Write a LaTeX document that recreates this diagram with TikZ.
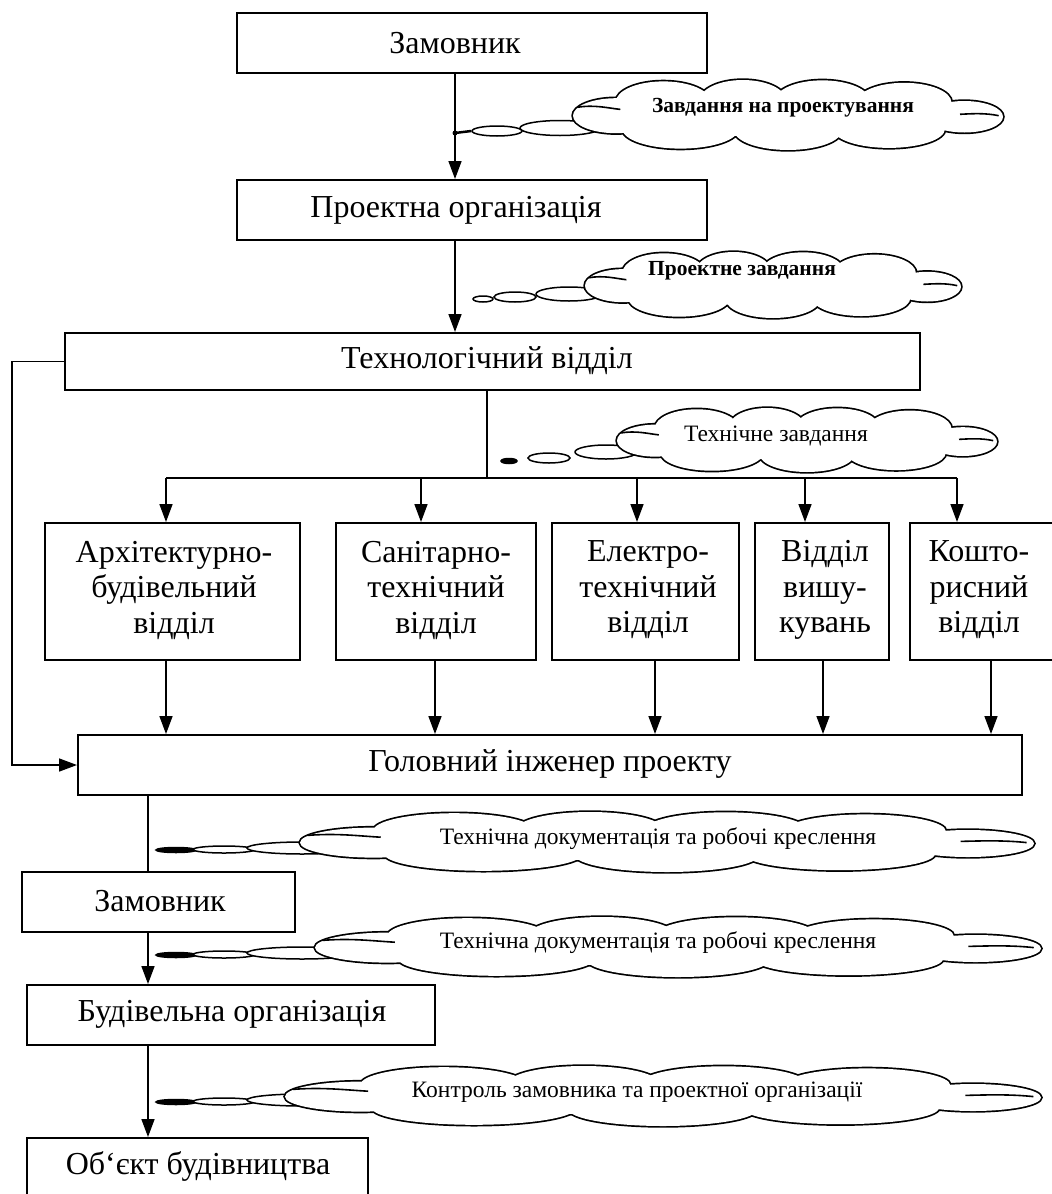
\documentclass[tikz,border=0pt]{standalone}
\usepackage{fontspec}
\setmainfont{Liberation Serif}
\usetikzlibrary{arrows.meta,shapes.geometric}

% lobes of a callout cloud, in units of its half width and half height
\newcommand\cloudlobes{%
  (0,0) ellipse (0.86 and 0.62)
  (-0.8,0.02) ellipse (0.2 and 0.5)
  (0.82,0.05) ellipse (0.18 and 0.45)
  (-0.58,-0.38) ellipse (0.22 and 0.58)
  (-0.21,-0.42) ellipse (0.2 and 0.58)
  (0.16,-0.41) ellipse (0.22 and 0.58)
  (0.54,-0.36) ellipse (0.22 and 0.56)
  (-0.5,0.4) ellipse (0.27 and 0.56)
  (0.0,0.44) ellipse (0.25 and 0.56)
  (0.47,0.4) ellipse (0.26 and 0.54)}

% cloud outline: name, centre x, centre y, half width, half height
\newcommand\drawcloud[5]{%
  \coordinate (#1) at (#2,#3);
  \begin{scope}[shift={(#2,#3)}, xscale=#4, yscale=#5]
    \draw[line width=3.4pt] \cloudlobes;
    \fill[white] \cloudlobes;
    % inner curls at the end lobes
    \draw[line width=1.6pt] (-0.98,-0.22) .. controls (-0.9,-0.3) and (-0.84,-0.2) .. (-0.78,-0.16);
    \draw[line width=1.6pt] (0.98,0.02) .. controls (0.92,-0.06) and (0.86,-0.04) .. (0.8,-0.02);
  \end{scope}}

\begin{document}
\begin{tikzpicture}[x=1pt,y=-1pt,
  box/.style={draw, line width=2pt, inner sep=0pt},
  flow/.style={line width=1.6pt, -{Triangle[length=18pt,width=13pt]}},
  link/.style={line width=1.6pt},
  tailb/.style={draw, line width=1.5pt, fill=white, ellipse, inner sep=0pt},
  big/.style={font=\fontsize{32}{35.5}\selectfont, align=center},
  cloudbold/.style={font=\bfseries\fontsize{21.5}{23}\selectfont},
  cloudtext/.style={font=\fontsize{23.5}{26}\selectfont}
]
\useasboundingbox (0,0) rectangle (1052,1194);

% x positions of the vertical connectors
\coordinate (xa) at (455,0);
\coordinate (xb) at (487,0);
\coordinate (xg) at (148,0);
\coordinate (fb) at (12,0);
\coordinate (bus) at (0,478);
\coordinate (in1) at (166,0);
\coordinate (in2) at (421,0);
\coordinate (in3) at (637,0);
\coordinate (in4) at (805,0);
\coordinate (in5) at (957,0);
\coordinate (out1) at (166,0);
\coordinate (out2) at (435,0);
\coordinate (out3) at (655,0);
\coordinate (out4) at (823,0);
\coordinate (out5) at (991,0);

% upper boxes
\node[box, minimum width=470pt, minimum height=60pt] (z1) at (472,43) {};
\node[big] (z1t) at (455,43) {Замовник};
\node[box, minimum width=470pt, minimum height=60pt] (p) at (472,210) {};
\node[big] (pt) at (456,210) {Проектна організація};
\node[box, minimum width=855pt, minimum height=57pt] (t) at (492,361.5) {};
\node[big] (tt) at (487,361) {Технологічний відділ};

% departments
\node[box, minimum width=255pt, minimum height=137pt] (d1) at (172.5,591.5) {};
\node[big] (d1t) at (174,590) {Архітектурно-\\будівельний\\відділ};
\node[box, minimum width=200pt, minimum height=137pt] (d2) at (435.5,591.5) {};
\node[big] (d2t) at (436,590) {Санітарно-\\технічний\\відділ};
\node[box, minimum width=187pt, minimum height=137pt] (d3) at (645.5,591.5) {};
\node[big] (d3t) at (648,590) {Електро-\\технічний\\відділ};
\node[box, minimum width=134pt, minimum height=137pt] (d4) at (822,591.5) {};
\node[big] (d4t) at (825,590) {Відділ\\вишу-\\кувань};
\node[box, minimum width=160pt, minimum height=137pt] (d5) at (990,591.5) {};
\node[big] (d5t) at (979,590) {Кошто-\\рисний\\відділ};

% chief engineer and lower chain
\node[box, minimum width=944pt, minimum height=60pt] (g) at (550,765) {};
\node[big] (gt) at (550,764) {Головний інженер проекту};
\node[box, minimum width=273pt, minimum height=60pt] (z2) at (158.5,902) {};
\node[big] (z2t) at (160,901) {Замовник};
\node[box, minimum width=408pt, minimum height=60pt] (b) at (231,1015) {};
\node[big] (bt) at (232,1014) {Будівельна організація};
\node[box, minimum width=341pt, minimum height=70pt] (o) at (197.5,1173) {};
\node[big] (ot) at (198,1166) {Об\char96\relax єкт будівництва};

% connectors
\draw[flow] (z1.south -| xa) -- (p.north -| xa);
\draw[flow] (p.south -| xa) -- (t.north -| xa);
\draw[link] (t.south -| xb) -- (bus -| xb);
\draw[link] (bus -| in1) -- (bus -| in5);
\foreach \i in {1,...,5}{
  \draw[flow] (bus -| in\i) -- (d\i.north -| in\i);
  \draw[flow] (d\i.south -| out\i) -- (g.north -| out\i);
}
\draw[flow] (t.west) -- (t.west -| fb) -- (g.west -| fb) -- (g.west);
\draw[link] (g.south -| xg) -- (z2.north -| xg);
\draw[flow] (z2.south -| xg) -- (b.north -| xg);
\draw[flow] (b.south -| xg) -- (o.north -| xg);

% callout 1
\node[tailb, minimum width=50pt, minimum height=10pt] (c1a) at (497,131) {};
\node[tailb, minimum width=80pt, minimum height=15pt] (c1b) at (560,128) {};
\coordinate (c1j) at (455,133);
\fill (c1j) circle (2.5pt);
\draw[line width=2.5pt] (c1j) -- (c1a.west);
\drawcloud{c1}{788}{115}{215}{35}
\node[cloudbold] (c1t) at (783,108) {Завдання на проектування};

% callout 2
\node[tailb, minimum width=20pt, minimum height=6pt] (c2a) at (483,299) {};
\node[tailb, minimum width=42pt, minimum height=10pt] (c2b) at (515,297) {};
\node[tailb, minimum width=66pt, minimum height=14pt] (c2c) at (569,294) {};
\drawcloud{c2}{773}{285}{188}{33}
\node[cloudbold] (c2t) at (742,271) {Проектне завдання};

% callout 3
\node[tailb, fill=black, minimum width=16pt, minimum height=5pt] (c3a) at (509,461) {};
\node[tailb, minimum width=42pt, minimum height=10pt] (c3b) at (549,458) {};
\node[tailb, minimum width=62pt, minimum height=14pt] (c3c) at (606,452) {};
\drawcloud{c3}{807}{440}{190}{32}
\node[cloudtext] (c3t) at (776,436) {Технічне завдання};

% callouts 4-6
\foreach \n/\y/\cx/\cy/\ca/\tx/\ty/\txt in {
  4/850/667/842/367/658/839/{Технічна документація та робочі креслення},
  5/955/678/947/363/658/943/{Технічна документація та робочі креслення},
  6/1102/663/1096/378/637/1092/{Контроль замовника та проектної організації}}{
  \node[tailb, fill=black, minimum width=40pt, minimum height=5pt] (c\n a) at (176,\y) {};
  \node[tailb, minimum width=62pt, minimum height=7pt] (c\n b) at (224,\y-0.5) {};
  \node[tailb, minimum width=110pt, minimum height=12pt] (c\n c) at (302,\y-2) {};
  \drawcloud{c\n}{\cx}{\cy}{\ca}{30}
  \node[cloudtext] (c\n t) at (\tx,\ty) {\txt};
}
\end{tikzpicture}
\end{document}
